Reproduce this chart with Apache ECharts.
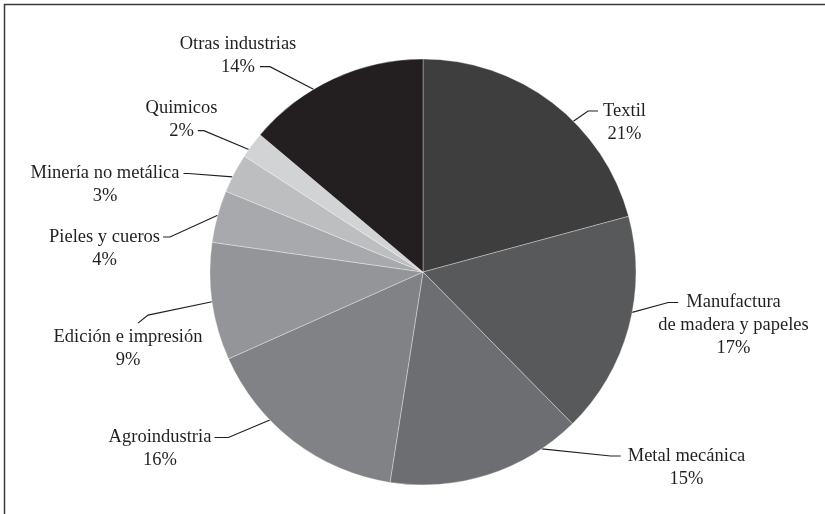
<!DOCTYPE html>
<html>
<head>
<meta charset="utf-8">
<script src="https://cdn.jsdelivr.net/npm/echarts@6/dist/echarts.min.js"></script>
<style>
  html, body { margin: 0; padding: 0; background: #ffffff; }
  #chart { width: 825px; height: 514px; }
</style>
</head>
<body>
<div id="chart"></div>
<script>
// Industry shares (%), clockwise from 12 o'clock
const industries = [
  'Textil',
  'Manufactura\nde madera y papeles',
  'Metal mecánica',
  'Agroindustria',
  'Edición e impresión',
  'Pieles y cueros',
  'Minería no metálica',
  'Quimicos',
  'Otras industrias'
];
const shares = [21, 17, 15, 16, 9, 4, 3, 2, 14];

// Grey ramp, one tone per slice
const sliceColors = ['#3e3e3e', '#58595b', '#6d6e71', '#808285', '#939598', '#a7a9ac', '#bcbec0', '#d1d3d4', '#231f20'];

// Pie geometry and type
const PIE_CX = 423, PIE_CY = 272, PIE_R = 213;
const FONT = '"Liberation Serif", "Times New Roman", serif';
const FONT_SIZE = 18.5, LINE_H = 22.7;
const INK = '#231f20';

// Label placement: block centre x, first text row centre y, side and row the leader meets,
// gap to the text, length of the short end segment, and where along the slice's arc the leader starts (0..1)
const labelSpots = [
  { cx: 624.5, y: 111,   side: 'left',  row: 0, gap: 5, tail: 10, at: 0.60 },
  { cx: 733.5, y: 302.5, side: 'left',  row: 0, gap: 8, tail: 10, at: 0.43 },
  { cx: 686.5, y: 456,   side: 'left',  row: 0, gap: 7, tail: 10, at: 0.20 },
  { cx: 160,   y: 437.5, side: 'right', row: 0, gap: 3, tail: 14, at: 0.65 },
  { cx: 128,   y: 337.5, side: 'top',   dx: 10, gap: 3, tail: 10, at: 0.50 },
  { cx: 104.5, y: 237,   side: 'right', row: 0, gap: 3, tail: 7,  at: 0.52 },
  { cx: 105,   y: 173.5, side: 'right', row: 0, gap: 4, tail: 5,  at: 0.40 },
  { cx: 181.5, y: 108,   side: 'right', row: 1, gap: 4, tail: 6,  at: 0.30 },
  { cx: 238,   y: 44,    side: 'right', row: 1, gap: 5, tail: 10, at: 0.38 }
];

const measureCtx = document.createElement('canvas').getContext('2d');
measureCtx.font = FONT_SIZE + 'px ' + FONT;
function textWidth(s) { return measureCtx.measureText(s).width; }

const total = shares.reduce((a, b) => a + b, 0);
const starts = [];
shares.reduce((acc, v) => { starts.push(acc); return acc + v; }, 0);

// point on the pie's rim, a fraction of the way through slice i
function rimPoint(i, frac) {
  const a = (starts[i] + shares[i] * frac) / total * Math.PI * 2;
  return [PIE_CX + PIE_R * Math.sin(a), PIE_CY - PIE_R * Math.cos(a)];
}

function placeLabel(params) {
  const i = params.dataIndex;
  const s = labelSpots[i];
  const rows = (industries[i] + '\n' + shares[i] + '%').split('\n');
  const top = s.y - LINE_H / 2;
  let end, knee;
  if (s.side === 'top') {
    end = [s.cx + s.dx, top - s.gap];
    knee = [end[0] + s.tail, end[1] - s.tail * 0.8];
  } else {
    const rowY = s.y + s.row * LINE_H;
    const half = textWidth(rows[s.row]) / 2;
    const dir = s.side === 'left' ? -1 : 1;
    end = [s.cx + dir * (half + s.gap), rowY];
    knee = [end[0] + dir * s.tail, rowY];
  }
  return {
    x: s.cx,
    y: top,
    align: 'center',
    verticalAlign: 'top',
    labelLinePoints: [rimPoint(i, s.at), knee, end]
  };
}

const chart = echarts.init(document.getElementById('chart'), null, { renderer: 'canvas' });

chart.setOption({
  animation: false,
  backgroundColor: '#ffffff',
  color: sliceColors,
  graphic: [{
    type: 'rect',
    silent: true,
    z: 100,
    shape: { x: 4.5, y: 4.5, width: 840, height: 530 },
    style: { fill: 'none', stroke: '#3a3a3a', lineWidth: 1.5 }
  }],
  series: [{
    type: 'pie',
    center: [PIE_CX, PIE_CY],
    radius: PIE_R,
    startAngle: 90,
    clockwise: true,
    avoidLabelOverlap: false,
    silent: true,
    itemStyle: { borderColor: 'rgba(255,255,255,0.55)', borderWidth: 0.6 },
    label: {
      show: true,
      position: 'outside',
      overflow: 'none',
      formatter: p => p.name + '\n' + p.value + '%',
      fontFamily: FONT,
      fontSize: FONT_SIZE,
      lineHeight: LINE_H,
      color: INK
    },
    labelLine: {
      show: true,
      lineStyle: { color: INK, width: 1.2 }
    },
    labelLayout: placeLabel,
    emphasis: { disabled: true },
    data: industries.map((name, i) => ({ name: name, value: shares[i] }))
  }]
});
</script>
</body>
</html>
